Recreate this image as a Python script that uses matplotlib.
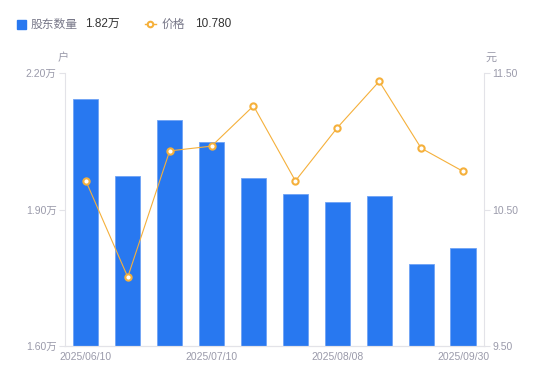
import matplotlib.pyplot as plt
import numpy as np
from matplotlib.lines import Line2D
from matplotlib.patches import Rectangle

plt.rcParams['font.family'] = ['Liberation Sans', 'Noto Sans CJK SC', 'DejaVu Sans']

# data
x_labels = ['2025/06/10', '', '', '2025/07/10', '', '', '2025/08/08', '', '', '2025/09/30']
holders = [2.143, 1.974, 2.097, 2.048, 1.969, 1.934, 1.917, 1.930, 1.780, 1.815]  # 万户
price = [10.71, 10.005, 10.93, 10.965, 11.26, 10.71, 11.10, 11.44, 10.95, 10.78]

bar_color = '#2878F0'
line_color = '#F5B03B'
axis_color = '#E3E3E8'
tick_color = '#9A9AAA'

fig = plt.figure(figsize=(5.5, 3.81), dpi=100)
ax = fig.add_axes([0.118, 0.092, 0.762, 0.716])
x = np.arange(len(holders))

ax.bar(x, holders, width=0.6, color=bar_color, edgecolor='#6FA3F5', linewidth=0.6, zorder=2)
ax.set_xlim(-0.5, len(holders) - 0.5)
ax.set_ylim(1.60, 2.20)
ax.set_yticks([1.60, 1.90, 2.20])
ax.set_yticklabels(['1.60万', '1.90万', '2.20万'])

shown = [i for i, s in enumerate(x_labels) if s]
ax.set_xticks(shown)
ax.set_xticklabels([x_labels[i] for i in shown])

ax2 = ax.twinx()
ax2.plot(x, price, color=line_color, linewidth=0.8, marker='o', markersize=4.5,
         markerfacecolor='white', markeredgecolor=line_color, markeredgewidth=1.5, zorder=3)
ax2.set_ylim(9.50, 11.50)
ax2.set_yticks([9.50, 10.50, 11.50])
ax2.set_yticklabels(['9.50', '10.50', '11.50'])

for a in (ax, ax2):
    a.spines['top'].set_visible(False)
    for side in ('left', 'right', 'bottom'):
        a.spines[side].set_color(axis_color)
        a.spines[side].set_linewidth(0.8)
    a.tick_params(axis='both', colors=axis_color, labelcolor=tick_color, labelsize=7.5,
                  length=4, width=0.8, pad=2)
ax.tick_params(axis='x', length=0, pad=4)
ax2.spines['left'].set_visible(False)
ax.spines['right'].set_visible(False)

fig.text(0.105, 0.84, '户', color=tick_color, fontsize=8, ha='left')
fig.text(0.882, 0.84, '元', color=tick_color, fontsize=8, ha='left')

# legend row at the top
fig.patches.append(Rectangle((0.031, 0.925), 0.016, 0.023, transform=fig.transFigure,
                             color=bar_color, figure=fig))
fig.text(0.055, 0.936, '股东数量', color='#777788', fontsize=8.5, va='center')
fig.text(0.154, 0.936, '1.82万', color='#333333', fontsize=8.5, va='center')
fig.lines.append(Line2D([0.263, 0.283], [0.937, 0.937], transform=fig.transFigure,
                        color=line_color, linewidth=1))
fig.lines.append(Line2D([0.273], [0.937], transform=fig.transFigure,
                        color=line_color, marker='o', markersize=4,
                        markerfacecolor='white', markeredgewidth=1.5))
fig.text(0.293, 0.936, '价格', color='#777788', fontsize=8.5, va='center')
fig.text(0.354, 0.936, '10.780', color='#333333', fontsize=8.5, va='center')

fig.savefig('out.png', dpi=100)
